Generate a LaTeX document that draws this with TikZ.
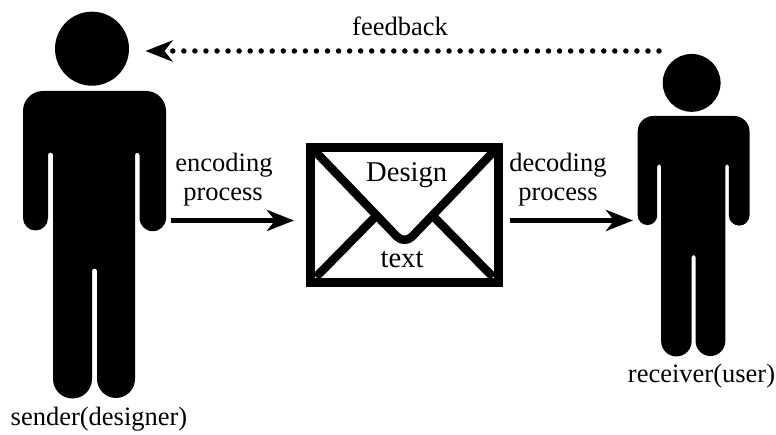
\documentclass[tikz,border=0pt]{standalone}
\usepackage{fontspec}
\setmainfont{Liberation Serif}
\usetikzlibrary{arrows.meta}
\tikzset{
  x=1pt,y=1pt,
  personbody/.pic={
    \fill[black] (43,-91) -- (146,-91) arc (90:0:20) -- (166,-218) arc (0:-180:13.25)
      -- (139.5,-155) arc (0:180:2.25) -- (135,-379) arc (0:-180:19)
      -- (97,-271) arc (0:180:2.5) -- (92,-379) arc (0:-180:19.5)
      -- (53,-155) arc (0:180:2.5) -- (48,-218) arc (0:-180:12.5)
      -- (23,-111) arc (180:90:20) -- cycle;
    \fill[black] (92,-48.7) circle (37);
  },
  lbl/.style={anchor=base,inner sep=0pt,font=\fontsize{26.5}{26.5}\selectfont},
  envlbl/.style={anchor=base,inner sep=0pt,font=\fontsize{28.6}{28.6}\selectfont},
  flow/.style={line width=5pt,-{Stealth[length=27pt,width=21pt,inset=8pt]}},
  fback/.style={line width=5.5pt,line cap=round,dash pattern=on 0pt off 11.05pt,-{Stealth[length=27pt,width=21pt,inset=8pt]}},
  envbox/.style={draw=black,line width=9pt,fill=white,minimum width=188.5pt,minimum height=135.5pt,inner sep=0pt},
  envline/.style={line width=8.5pt,line cap=butt},
}
\begin{document}
\begin{tikzpicture}
\useasboundingbox (0,0) rectangle (776,-435);
\pic at (0,0) {personbody};
\pic[scale=0.782] at (619.7,-44.8) {personbody};
\node[envbox] (envelope) at (404.3,-215) {};
\draw[envline] (316,-277) -- (378,-214);
\draw[envline] (493,-277) -- (431,-214);
\draw[envline,rounded corners=11pt,line join=round] (310,-146) -- (404.5,-244.5) -- (499,-146);
% labels
\node[lbl] (feedback) at (400,-36) {feedback};
\node[lbl] (enc1) at (224,-172) {encoding};
\node[lbl] (enc2) at (223,-201) {process};
\node[lbl] (dec1) at (558,-172) {decoding};
\node[lbl] (dec2) at (558,-201) {process};
\node[envlbl] (design) at (406.7,-182) {Design};
\node[envlbl] (text) at (402,-268) {text};
\node[lbl] (sender) at (99,-425) {sender(designer)};
\node[lbl] (receiver) at (701.5,-382) {receiver(user)};
% connectors
\coordinate (senderhand) at (171,-220.5);
\coordinate (envin) at (294,-220.5);
\coordinate (envout) at (510,-220.5);
\coordinate (receiverhand) at (633,-220.5);
\coordinate (receiverhead) at (659,-51);
\coordinate (senderhead) at (145.5,-51);
\draw[flow] (senderhand) -- (envin);
\draw[flow] (envout) -- (receiverhand);
\draw[fback] (receiverhead) -- (senderhead);
\end{tikzpicture}
\end{document}
